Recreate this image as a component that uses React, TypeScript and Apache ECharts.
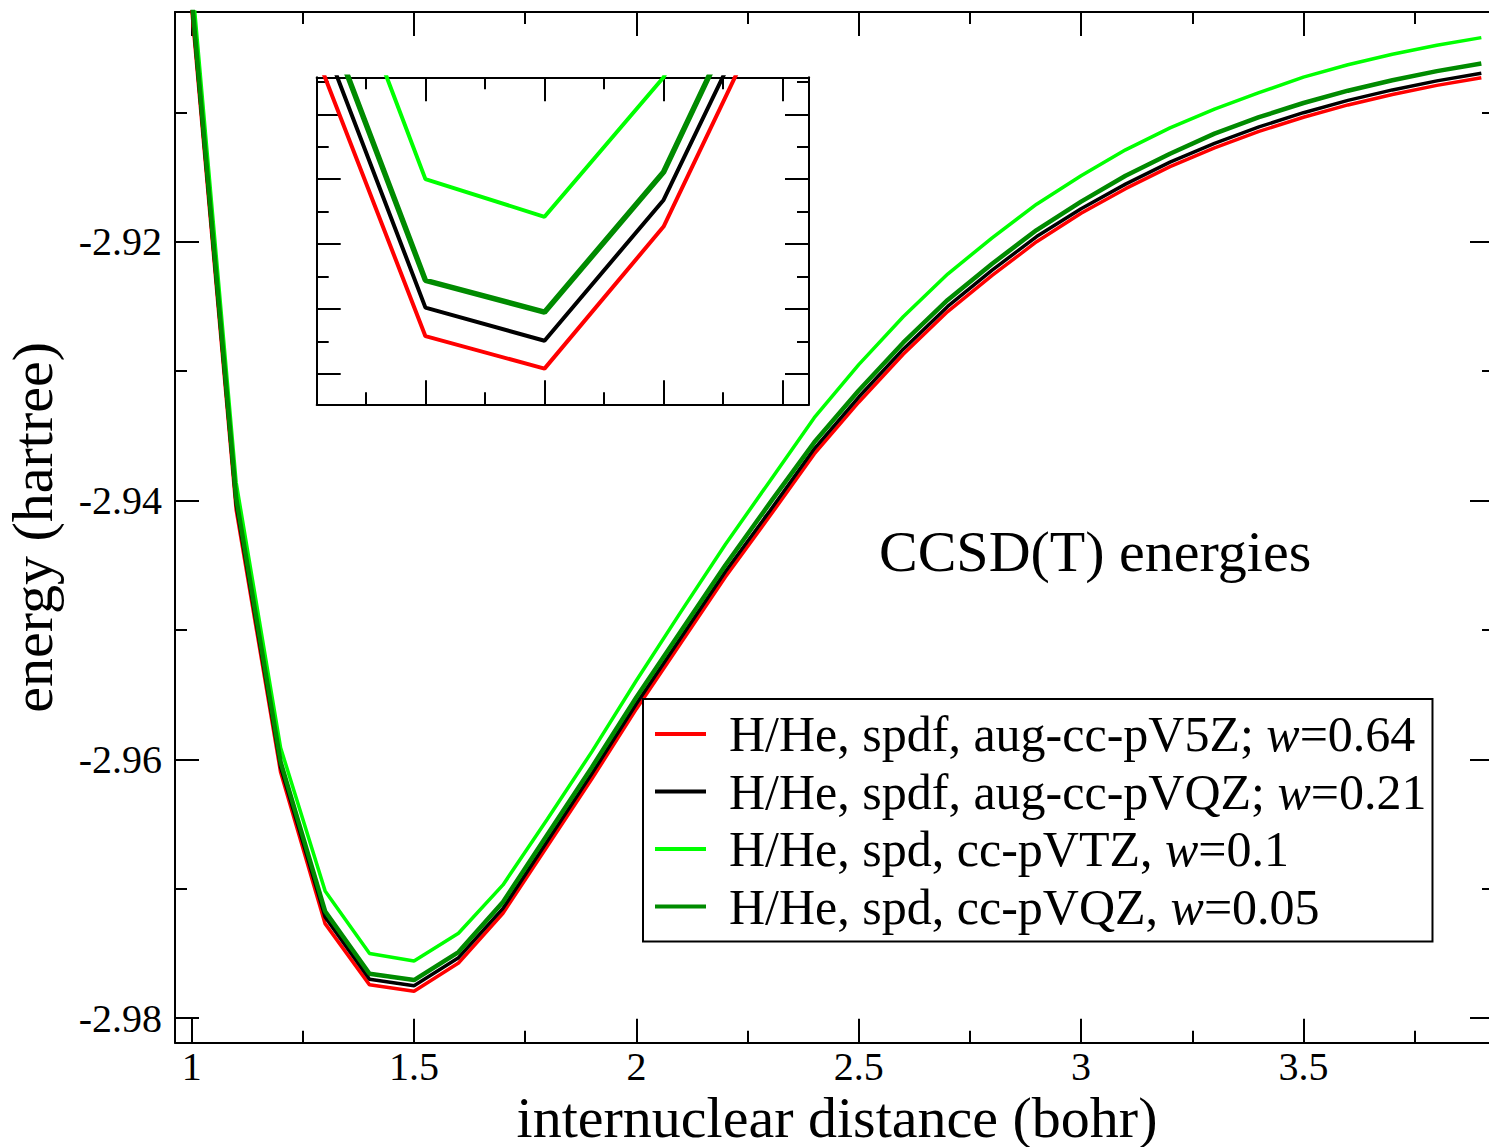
import React, { useEffect, useRef } from "react";
import * as echarts from "echarts";

// ---------------- data ----------------
const distance = [1.0, 1.1, 1.2, 1.3, 1.4, 1.5, 1.6, 1.7, 1.8, 1.9, 2.0, 2.1, 2.2, 2.3, 2.4, 2.5, 2.6, 2.7, 2.8, 2.9, 3.0, 3.1, 3.2, 3.3, 3.4, 3.5, 3.6, 3.7, 3.8, 3.9];

const energyV5Z = [-2.9020, -2.9407, -2.9610, -2.97269, -2.97742, -2.97792, -2.97573, -2.97189, -2.9667, -2.9615, -2.9561, -2.9510, -2.9459, -2.9412, -2.9364, -2.9324, -2.9287, -2.9254, -2.9226, -2.9200, -2.9178, -2.9159, -2.9142, -2.91275, -2.91148, -2.91038, -2.90943, -2.90862, -2.90792, -2.90733];
const energyVQZaug = [-2.9016, -2.9403, -2.9606, -2.97218, -2.97698, -2.97749, -2.97532, -2.97151, -2.9663, -2.9611, -2.9557, -2.9506, -2.9455, -2.9408, -2.9360, -2.9320, -2.9283, -2.9250, -2.9222, -2.9196, -2.91745, -2.91555, -2.91385, -2.9124, -2.91113, -2.91003, -2.90908, -2.90827, -2.90757, -2.90698];
const energyVTZ = [-2.8995, -2.9386, -2.9591, -2.97016, -2.97500, -2.97558, -2.97343, -2.9697, -2.9646, -2.9594, -2.9539, -2.9486, -2.9434, -2.9385, -2.9336, -2.9295, -2.9258, -2.9225, -2.9197, -2.9171, -2.9149, -2.9129, -2.9112, -2.90975, -2.90848, -2.90728, -2.90633, -2.90552, -2.90482, -2.90423];
const energyVQZ = [-2.9011, -2.9398, -2.9602, -2.97173, -2.97656, -2.97705, -2.97489, -2.97101, -2.9658, -2.9606, -2.9552, -2.9501, -2.9450, -2.9402, -2.9355, -2.9315, -2.9278, -2.9245, -2.9217, -2.9191, -2.9169, -2.9149, -2.9132, -2.91165, -2.91038, -2.90928, -2.90833, -2.90752, -2.90682, -2.90623];

const seriesNames = [
  "H/He, spdf, aug-cc-pV5Z; w=0.64",
  "H/He, spdf, aug-cc-pVQZ; w=0.21",
  "H/He, spd, cc-pVTZ, w=0.1",
  "H/He, spd, cc-pVQZ, w=0.05",
];
const seriesValues = [energyV5Z, energyVQZaug, energyVTZ, energyVQZ];
const seriesColors = ["#ff0000", "#000000", "#00ff00", "#008b00"];

const xMajorTicks = [1, 1.5, 2, 2.5, 3, 3.5];
const xMinorTicks = [1.25, 1.75, 2.25, 2.75, 3.25, 3.75];
const yMajorTicks = [-2.98, -2.96, -2.94, -2.92];
const yMinorTicks = [-2.97, -2.95, -2.93, -2.91];

const insetXMajor = [1.4, 1.5, 1.6, 1.7];
const insetXMinor = [1.35, 1.45, 1.55, 1.65];
const insetYMajor = [-2.978, -2.977, -2.976, -2.975, -2.974];
const insetYMinor = [-2.9775, -2.9765, -2.9755, -2.9745, -2.9735];

const mainXRange = [0.9625, 3.9285];
const mainYRange = [-2.98189, -2.90225];
const insetXRange = [1.3087, 1.7221];
const insetYRange = [-2.97847, -2.97343];

const xTitle = "internuclear distance (bohr)";
const yTitle = "energy (hartree)";
const plotTitle = "CCSD(T) energies";

const FONT = "'Liberation Serif', 'Times New Roman', serif";

function axis(
  gridIndex: number,
  position: string,
  range: number[],
  ticks: number[],
  len: number,
  showLine: boolean,
  labels: boolean,
  margin = 10
) {
  return {
    type: "value",
    gridIndex,
    position,
    min: range[0],
    max: range[1],
    axisLine: { show: showLine, onZero: false, lineStyle: { color: "#000", width: 2 } },
    axisTick: {
      show: true,
      inside: true,
      length: len,
      customValues: ticks,
      lineStyle: { color: "#000", width: 2 },
    },
    axisLabel: labels
      ? {
          show: true,
          customValues: ticks,
          fontFamily: FONT,
          fontSize: 40,
          lineHeight: 40,
          color: "#000",
          margin,
        }
      : { show: false },
    splitLine: { show: false },
    minorTick: { show: false },
  };
}

export default function App() {
  const ref = useRef<HTMLDivElement>(null);

  useEffect(() => {
    if (!ref.current) return;
    const chart = echarts.init(ref.current, undefined, { renderer: "svg" });

    const MAJ = 24;
    const MIN = 12;

    const xAxes = [
      axis(0, "bottom", mainXRange, xMajorTicks, MAJ, true, true, 4),
      axis(0, "bottom", mainXRange, xMinorTicks, MIN, false, false),
      axis(0, "top", mainXRange, xMajorTicks, MAJ, true, false),
      axis(0, "top", mainXRange, xMinorTicks, MIN, false, false),
      axis(1, "bottom", insetXRange, insetXMajor, MAJ, true, false),
      axis(1, "bottom", insetXRange, insetXMinor, MIN, false, false),
      axis(1, "top", insetXRange, insetXMajor, MAJ, true, false),
      axis(1, "top", insetXRange, insetXMinor, MIN, false, false),
    ];
    const yAxes = [
      {
        ...axis(0, "left", mainYRange, yMajorTicks, MAJ, true, true, 13),
        name: yTitle,
        nameLocation: "middle",
        nameGap: 114,
        nameTextStyle: { fontFamily: FONT, fontSize: 58, color: "#000" },
      },
      axis(0, "left", mainYRange, yMinorTicks, MIN, false, false),
      axis(0, "right", mainYRange, yMajorTicks, MAJ, true, false),
      axis(0, "right", mainYRange, yMinorTicks, MIN, false, false),
      axis(1, "left", insetYRange, insetYMajor, MAJ, true, false),
      axis(1, "left", insetYRange, insetYMinor, MIN, false, false),
      axis(1, "right", insetYRange, insetYMajor, MAJ, true, false),
      axis(1, "right", insetYRange, insetYMinor, MIN, false, false),
    ];

    const makeSeries = (inset: boolean) =>
      seriesNames.map((name, i) => ({
        name,
        type: "line",
        xAxisIndex: inset ? 4 : 0,
        yAxisIndex: inset ? 4 : 0,
        data: distance.map((x, k) => [x, seriesValues[i][k]]),
        symbol: "none",
        showSymbol: false,
        clip: true,
        color: seriesColors[i],
        itemStyle: { color: seriesColors[i] },
        lineStyle: {
          color: seriesColors[i],
          width: inset ? (i === 3 ? 5.5 : 4) : i === 3 ? 4.5 : 3.5,
        },
        z: 2 + i,
        silent: true,
      }));

    const option = {
      animation: false,
      backgroundColor: "#fff",
      grid: [
        { left: 175, top: 12, width: 1319, height: 1030.7, containLabel: false, outerBoundsMode: "none" },
        { left: 316.7, top: 77.3, width: 492.3, height: 327, containLabel: false, outerBoundsMode: "none" },
      ],
      xAxis: xAxes,
      yAxis: yAxes,
      legend: {
        data: seriesNames,
        orient: "vertical",
        left: 643,
        top: 699,
        backgroundColor: "#fff",
        borderColor: "#000",
        borderWidth: 2,
        borderRadius: 0,
        padding: [10, 6, 10, 12],
        itemGap: 7.5,
        itemWidth: 51,
        itemHeight: 4,
        icon: "rect",
        selectedMode: false,
        formatter: (name: string) => {
          const idx = name.lastIndexOf("w=");
          return `{f|${name.slice(0, idx)}}{i|w}{a|${name.slice(idx + 1)}}`;
        },
        textStyle: {
          fontFamily: FONT,
          fontSize: 50,
          color: "#000",
          rich: {
            f: { fontFamily: FONT, fontSize: 50, color: "#000", lineHeight: 50, padding: [0, 0, 0, 18] },
            i: { fontFamily: FONT, fontSize: 50, color: "#000", lineHeight: 50, fontStyle: "italic" },
            a: { fontFamily: FONT, fontSize: 50, color: "#000", lineHeight: 50 },
          },
        },
      },
      graphic: [
        {
          type: "text",
          x: 879,
          y: 551,
          style: {
            text: plotTitle,
            fontFamily: FONT,
            fontSize: 58,
            fill: "#000",
            textAlign: "left",
            textVerticalAlign: "middle",
          },
        },
        {
          type: "text",
          x: 837,
          y: 1117,
          style: {
            text: xTitle,
            fontFamily: FONT,
            fontSize: 58,
            lineHeight: 48,
            fill: "#000",
            textAlign: "center",
            textVerticalAlign: "middle",
          },
        },
      ],
      series: [...makeSeries(false), ...makeSeries(true)],
    };

    chart.setOption(option as any);
    return () => chart.dispose();
  }, []);

  return (
    <div
      ref={ref}
      style={{ position: "absolute", left: 0, top: 0, width: 1489, height: 1147, background: "#fff" }}
    />
  );
}
